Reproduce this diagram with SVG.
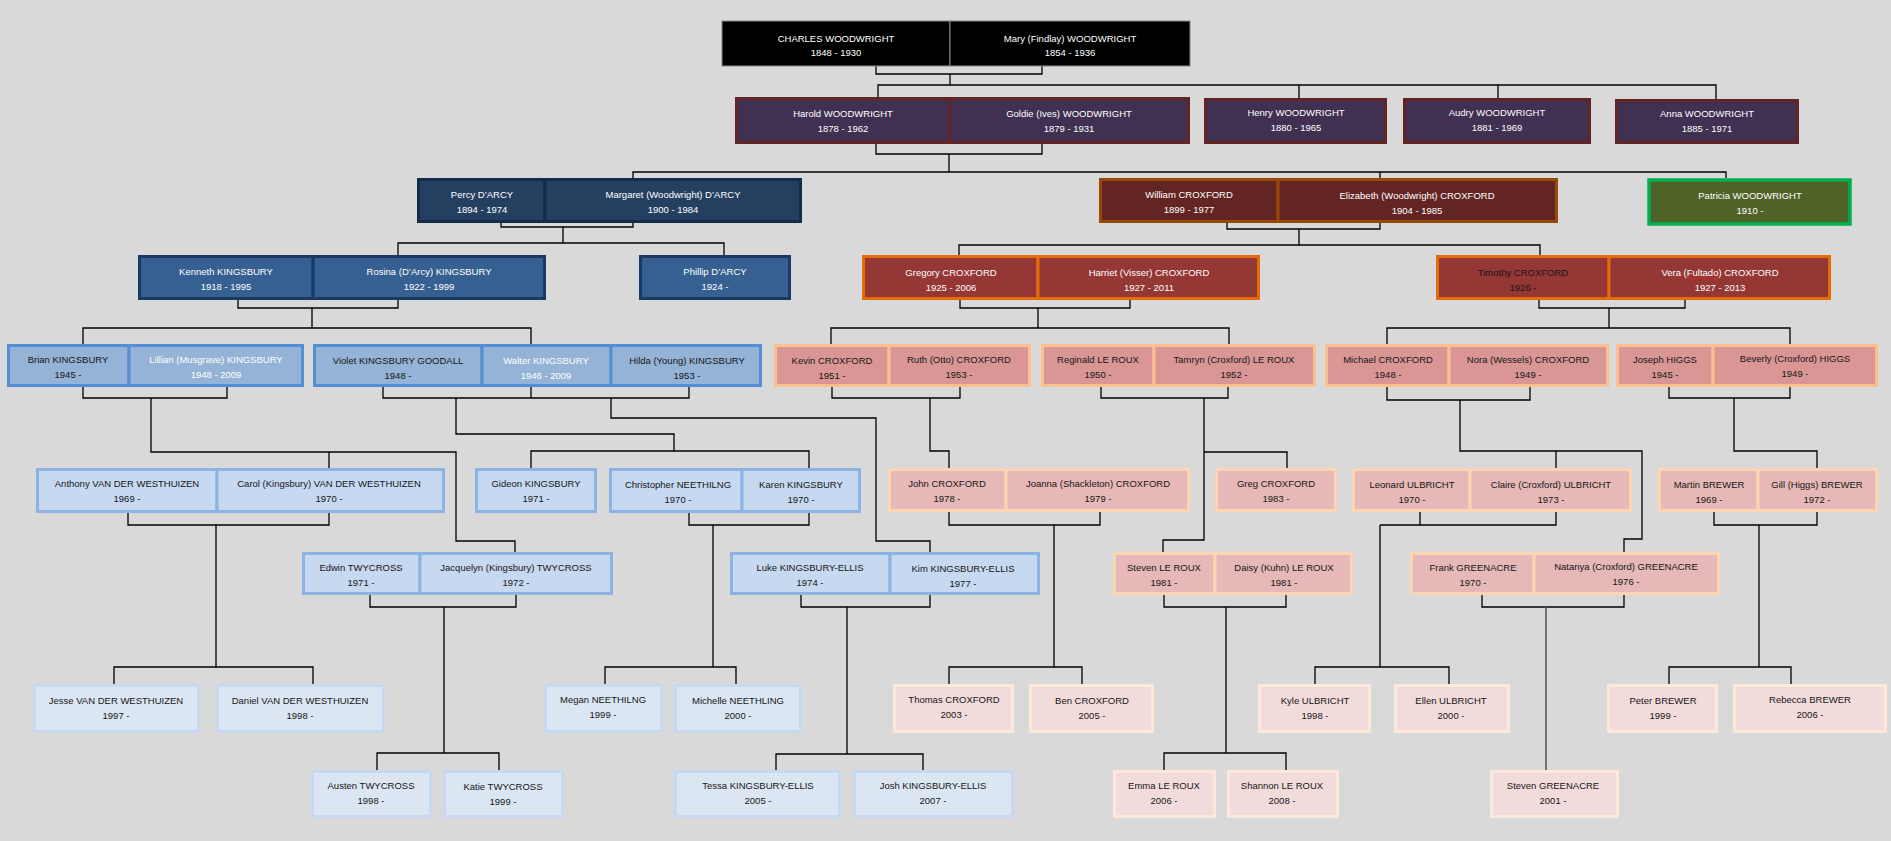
<svg xmlns="http://www.w3.org/2000/svg" width="1891" height="841" viewBox="0 0 1891 841">
<style>
.ln{fill:none;stroke:#000;stroke-width:1.3}
.lg{fill:none;stroke:#595959;stroke-width:1.6}
.t{font-family:'Liberation Sans',Arial,sans-serif;font-size:9.5px;text-anchor:middle}
.w{fill:#fff}.k{fill:#161616}
.b0{fill:#000;stroke:#8a8a8a;stroke-width:1}
.b1{fill:#403152;stroke:#632523;stroke-width:3}
.b2d{fill:#243f60;stroke:#142c4a;stroke-width:3}
.b2c{fill:#632523;stroke:#984807;stroke-width:3}
.b2p{fill:#4f6228;stroke:#00b050;stroke-width:3.5}
.b3d{fill:#366092;stroke:#1b3a63;stroke-width:3}
.b3c{fill:#953735;stroke:#e36c09;stroke-width:3}
.b4d{fill:#95b3d7;stroke:#558ed5;stroke-width:3}
.b4c{fill:#d99694;stroke:#fac090;stroke-width:3}
.b5d{fill:#c6d9f1;stroke:#8db3e2;stroke-width:3}
.b5c{fill:#e6b9b8;stroke:#fcd5b5;stroke-width:3}
.b7d{fill:#dce6f2;stroke:#c6d9f1;stroke-width:3}
.b7c{fill:#f2dcdb;stroke:#fde9d9;stroke-width:3}
</style>
<rect width="1891" height="841" fill="#d9d9d9"/>

<g id="connectors">
<!-- generation 0 -> 1 -->
<path class="ln" d="M876,66 V74 H1042 V66 M950,74 V85 M878,97 V85 H1716 V99 M1299,85 V98 M1498,85 V98"/>
<!-- generation 1 -> 2 -->
<path class="ln" d="M876,144 V154 H1042 V144 M949,154 V172 M633,178 V172 H1726 V178 M1380,172 V178"/>
<!-- generation 2 -> 3 -->
<path class="ln" d="M501,221 V227 H633 V221 M563,227 V243 M398,255 V243 H724 V255"/>
<path class="ln" d="M1227,221 V229 H1380 V221 M1299,229 V245 M959,255 V245 H1540 V255"/>
<!-- generation 3 -> 4 -->
<path class="ln" d="M238,298 V308 H398 V298 M312,308 V328 M83,344 V328 H531 V344"/>
<path class="ln" d="M960,298 V308 H1130 V298 M1038,308 V328 M831,344 V328 H1229 V344"/>
<path class="ln" d="M1539,298 V308 H1685 V298 M1609,308 V328 M1387,344 V328 H1790 V344"/>
<!-- generation 4 -> 5/6 -->
<path class="ln" d="M83,386 V398 H227 V386 M151,398 V452 H456 V541 H515 V552 M329,452 V468"/>
<path class="ln" d="M383,386 V398 H689 V386 M531,386 V398 M456,398 V434 H674 V451 M531,468 V451 H809 V468 M611,398 V418 H876 V541 H930 V552"/>
<path class="ln" d="M832,386 V398 H960 V386 M930,398 V451 H949 V468"/>
<path class="ln" d="M1101,386 V398 H1228 V386 M1204,398 V540 H1163 V552 M1204,452 H1287 V468"/>
<path class="ln" d="M1387,386 V400 H1530 V386 M1460,400 V451 H1642 V539 H1624 V552 M1556,451 V468"/>
<path class="ln" d="M1669,386 V398 H1790 V386 M1734,398 V451 H1817 V468"/>
<!-- generation 5 -> 7 -->
<path class="ln" d="M128,512 V525 H329 V512 M216,525 V667 M114,684 V667 H313 V684"/>
<path class="ln" d="M689,512 V525 H809 V512 M713,525 V667 M605,684 V667 H736 V684"/>
<path class="ln" d="M949,511 V525 H1100 V511 M1054,525 V667 M949,684 V667 H1082 V684"/>
<path class="ln" d="M1420,511 V525 H1556 V511 M1380,525 H1420 M1380,525 V667 M1315,684 V667 H1449 V684"/>
<path class="ln" d="M1714,511 V525 H1817 V511 M1759,525 V667 M1669,684 V667 H1791 V684"/>
<!-- generation 6 -> 8 -->
<path class="ln" d="M370,594 V607 H516 V594 M444,607 V753 M377,770 V753 H499 V770"/>
<path class="ln" d="M801,594 V607 H930 V594 M847,607 V754 M776,770 V754 H923 V770"/>
<path class="ln" d="M1164,594 V607 H1286 V594 M1226,607 V753 M1164,770 V753 H1286 V770"/>
<path class="ln" d="M1482,594 V607 H1624 V594"/>
<path class="lg" d="M1546,607 V770"/>
</g>

<!-- Generation 0 -->
<g id="charles"><rect class="b0" x="722" y="21" width="228" height="45"/><text class="t w" x="836" y="41.5">CHARLES WOODWRIGHT</text><text class="t w" x="836" y="56">1848 - 1930</text></g>
<g id="mary"><rect class="b0" x="950" y="21" width="240" height="45"/><text class="t w" x="1070" y="41.5">Mary (Findlay) WOODWRIGHT</text><text class="t w" x="1070" y="56">1854 - 1936</text></g>

<!-- Generation 1 -->
<g id="harold"><rect class="b1" x="736.5" y="98.5" width="213.5" height="44"/><text class="t w" x="843" y="116.5">Harold WOODWRIGHT</text><text class="t w" x="843" y="131.5">1878 - 1962</text></g>
<g id="goldie"><rect class="b1" x="950" y="98.5" width="238.5" height="44"/><text class="t w" x="1069" y="116.5">Goldie (Ives) WOODWRIGHT</text><text class="t w" x="1069" y="131.5">1879 - 1931</text></g>
<g id="henry"><rect class="b1" x="1205.5" y="99.5" width="180" height="43"/><text class="t w" x="1296" y="116">Henry WOODWRIGHT</text><text class="t w" x="1296" y="131">1880 - 1965</text></g>
<g id="audry"><rect class="b1" x="1404.5" y="99.5" width="185" height="43"/><text class="t w" x="1497" y="116">Audry WOODWRIGHT</text><text class="t w" x="1497" y="131">1881 - 1969</text></g>
<g id="anna"><rect class="b1" x="1616.5" y="100.5" width="181" height="42"/><text class="t w" x="1707" y="117">Anna WOODWRIGHT</text><text class="t w" x="1707" y="132">1885 - 1971</text></g>

<!-- Generation 2 -->
<g id="percy"><rect class="b2d" x="418.5" y="179.5" width="126.5" height="42"/><text class="t w" x="482" y="198">Percy D’ARCY</text><text class="t w" x="482" y="212.5">1894 - 1974</text></g>
<g id="margaret"><rect class="b2d" x="545" y="179.5" width="255.5" height="42"/><text class="t w" x="673" y="198">Margaret (Woodwright) D’ARCY</text><text class="t w" x="673" y="212.5">1900 - 1984</text></g>
<g id="william"><rect class="b2c" x="1100.5" y="179.5" width="177.5" height="42"/><text class="t w" x="1189" y="198">William CROXFORD</text><text class="t w" x="1189" y="212.5">1899 - 1977</text></g>
<g id="elizabeth"><rect class="b2c" x="1278" y="179.5" width="278.5" height="42"/><text class="t w" x="1417" y="199">Elizabeth (Woodwright) CROXFORD</text><text class="t w" x="1417" y="213.5">1904 - 1985</text></g>
<g id="patricia"><rect class="b2p" x="1649" y="180" width="201" height="44"/><text class="t w" x="1750" y="199">Patricia WOODWRIGHT</text><text class="t w" x="1750" y="213.5">1910 -</text></g>

<!-- Generation 3 -->
<g id="kenneth"><rect class="b3d" x="139.5" y="256.5" width="173.5" height="42"/><text class="t w" x="226" y="275">Kenneth KINGSBURY</text><text class="t w" x="226" y="290">1918 - 1995</text></g>
<g id="rosina"><rect class="b3d" x="313" y="256.5" width="231.5" height="42"/><text class="t w" x="429" y="275">Rosina (D’Arcy) KINGSBURY</text><text class="t w" x="429" y="290">1922 - 1999</text></g>
<g id="phillip"><rect class="b3d" x="640.5" y="256.5" width="149" height="42"/><text class="t w" x="715" y="275">Phillip D’ARCY</text><text class="t w" x="715" y="290">1924 -</text></g>
<g id="gregory"><rect class="b3c" x="863.5" y="256.5" width="174.5" height="42"/><text class="t w" x="951" y="275.5">Gregory CROXFORD</text><text class="t w" x="951" y="290.5">1925 - 2006</text></g>
<g id="harriet"><rect class="b3c" x="1038" y="256.5" width="220.5" height="42"/><text class="t w" x="1149" y="275.5">Harriet (Visser) CROXFORD</text><text class="t w" x="1149" y="290.5">1927 - 2011</text></g>
<g id="timothy"><rect class="b3c" x="1437.5" y="256.5" width="171.5" height="42"/><text class="t k" x="1523" y="275.5">Timothy CROXFORD</text><text class="t k" x="1523" y="290.5">1926 -</text></g>
<g id="vera"><rect class="b3c" x="1609" y="256.5" width="220.5" height="42"/><text class="t w" x="1720" y="275.5">Vera (Fultado) CROXFORD</text><text class="t w" x="1720" y="290.5">1927 - 2013</text><path d="M1687,277.8 l2,1.5 l2,-1.5 l2,1.5 l2,-1.5 l2,1.5 l2,-1.5 l2,1.5 l2,-1.5 l2,1.5 l2,-1.5 l2,1.5 l2,-1.5 l2,1.5 l2,-1.5 l2,1.5 l2,-1.5" fill="none" stroke="#e02020" stroke-width="0.9"/></g>

<!-- Generation 4 -->
<g id="brian"><rect class="b4d" x="8.5" y="345.5" width="120.5" height="40"/><text class="t k" x="68" y="363">Brian KINGSBURY</text><text class="t k" x="68" y="378">1945 -</text></g>
<g id="lillian"><rect class="b4d" x="129" y="345.5" width="173.5" height="40"/><text class="t w" x="216" y="363">Lillian (Musgrave) KINGSBURY</text><text class="t w" x="216" y="378">1948 - 2009</text></g>
<g id="violet"><rect class="b4d" x="314.5" y="345.5" width="167.5" height="40"/><text class="t k" x="398" y="364">Violet KINGSBURY GOODALL</text><text class="t k" x="398" y="379">1948 -</text></g>
<g id="walter"><rect class="b4d" x="482" y="345.5" width="129" height="40"/><text class="t w" x="546" y="364">Walter KINGSBURY</text><text class="t w" x="546" y="379">1946 - 2009</text></g>
<g id="hilda"><rect class="b4d" x="611" y="345.5" width="149.5" height="40"/><text class="t k" x="687" y="364">Hilda (Young) KINGSBURY</text><text class="t k" x="687" y="379">1953 -</text></g>
<g id="kevin"><rect class="b4c" x="775.5" y="345.5" width="113.5" height="40"/><text class="t k" x="832" y="364">Kevin CROXFORD</text><text class="t k" x="832" y="379">1951 -</text></g>
<g id="ruth"><rect class="b4c" x="889" y="345.5" width="140.5" height="40"/><text class="t k" x="959" y="363">Ruth (Otto) CROXFORD</text><text class="t k" x="959" y="378">1953 -</text></g>
<g id="reginald"><rect class="b4c" x="1042.5" y="345.5" width="111.5" height="40"/><text class="t k" x="1098" y="363">Reginald LE ROUX</text><text class="t k" x="1098" y="378">1950 -</text></g>
<g id="tamryn"><rect class="b4c" x="1154" y="345.5" width="160.5" height="40"/><text class="t k" x="1234" y="363">Tamryn (Croxford) LE ROUX</text><text class="t k" x="1234" y="378">1952 -</text></g>
<g id="michael"><rect class="b4c" x="1326.5" y="345.5" width="122.5" height="40"/><text class="t k" x="1388" y="363">Michael CROXFORD</text><text class="t k" x="1388" y="378">1948 -</text></g>
<g id="nora"><rect class="b4c" x="1449" y="345.5" width="158.5" height="40"/><text class="t k" x="1528" y="363">Nora (Wessels) CROXFORD</text><text class="t k" x="1528" y="378">1949 -</text></g>
<g id="joseph"><rect class="b4c" x="1617.5" y="345.5" width="95.5" height="40"/><text class="t k" x="1665" y="363">Joseph HIGGS</text><text class="t k" x="1665" y="378">1945 -</text></g>
<g id="beverly"><rect class="b4c" x="1713" y="345.5" width="163.5" height="40"/><text class="t k" x="1795" y="362">Beverly (Croxford) HIGGS</text><text class="t k" x="1795" y="377">1949 -</text></g>

<!-- Generation 5 -->
<g id="anthony"><rect class="b5d" x="37.5" y="469.5" width="179.5" height="42"/><text class="t k" x="127" y="487">Anthony VAN DER WESTHUIZEN</text><text class="t k" x="127" y="502">1969 -</text></g>
<g id="carol"><rect class="b5d" x="217" y="469.5" width="226.5" height="42"/><text class="t k" x="329" y="487">Carol (Kingsbury) VAN DER WESTHUIZEN</text><text class="t k" x="329" y="502">1970 -</text></g>
<g id="gideon"><rect class="b5d" x="476.5" y="469.5" width="119" height="42"/><text class="t k" x="536" y="487">Gideon KINGSBURY</text><text class="t k" x="536" y="502">1971 -</text></g>
<g id="christopher"><rect class="b5d" x="610.5" y="469.5" width="131.5" height="42"/><text class="t k" x="678" y="488">Christopher NEETHILNG</text><text class="t k" x="678" y="503">1970 -</text></g>
<g id="karen"><rect class="b5d" x="742" y="469.5" width="117.5" height="42"/><text class="t k" x="801" y="488">Karen KINGSBURY</text><text class="t k" x="801" y="503">1970 -</text></g>
<g id="john"><rect class="b5c" x="889.5" y="469.5" width="116.5" height="41"/><text class="t k" x="947" y="487">John CROXFORD</text><text class="t k" x="947" y="502">1978 -</text></g>
<g id="joanna"><rect class="b5c" x="1006" y="469.5" width="182.5" height="41"/><text class="t k" x="1098" y="487">Joanna (Shackleton) CROXFORD</text><text class="t k" x="1098" y="502">1979 -</text></g>
<g id="greg"><rect class="b5c" x="1216.5" y="469.5" width="119" height="41"/><text class="t k" x="1276" y="487">Greg CROXFORD</text><text class="t k" x="1276" y="502">1983 -</text></g>
<g id="leonard"><rect class="b5c" x="1353.5" y="469.5" width="116.5" height="41"/><text class="t k" x="1412" y="488">Leonard ULBRICHT</text><text class="t k" x="1412" y="503">1970 -</text></g>
<g id="claire"><rect class="b5c" x="1470" y="469.5" width="160.5" height="41"/><text class="t k" x="1551" y="488">Claire (Croxford) ULBRICHT</text><text class="t k" x="1551" y="503">1973 -</text></g>
<g id="martin"><rect class="b5c" x="1659.5" y="469.5" width="98.5" height="41"/><text class="t k" x="1709" y="488">Martin BREWER</text><text class="t k" x="1709" y="503">1969 -</text></g>
<g id="gill"><rect class="b5c" x="1758" y="469.5" width="118.5" height="41"/><text class="t k" x="1817" y="488">Gill (Higgs) BREWER</text><text class="t k" x="1817" y="503">1972 -</text></g>

<!-- Generation 6 -->
<g id="edwin"><rect class="b5d" x="303.5" y="553.5" width="116.5" height="40"/><text class="t k" x="361" y="571">Edwin TWYCROSS</text><text class="t k" x="361" y="586">1971 -</text></g>
<g id="jacquelyn"><rect class="b5d" x="420" y="553.5" width="191.5" height="40"/><text class="t k" x="516" y="571">Jacquelyn (Kingsbury) TWYCROSS</text><text class="t k" x="516" y="586">1972 -</text></g>
<g id="luke"><rect class="b5d" x="731.5" y="553.5" width="158.5" height="40"/><text class="t k" x="810" y="571">Luke KINGSBURY-ELLIS</text><text class="t k" x="810" y="586">1974 -</text></g>
<g id="kim"><rect class="b5d" x="890" y="553.5" width="148.5" height="40"/><text class="t k" x="963" y="571.5">Kim KINGSBURY-ELLIS</text><text class="t k" x="963" y="586.5">1977 -</text></g>
<g id="steven"><rect class="b5c" x="1114.5" y="553.5" width="100.5" height="40"/><text class="t k" x="1164" y="571">Steven LE ROUX</text><text class="t k" x="1164" y="586">1981 -</text></g>
<g id="daisy"><rect class="b5c" x="1215" y="553.5" width="136.5" height="40"/><text class="t k" x="1284" y="571">Daisy (Kuhn) LE ROUX</text><text class="t k" x="1284" y="586">1981 -</text></g>
<g id="frank"><rect class="b5c" x="1411.5" y="553.5" width="122.5" height="40"/><text class="t k" x="1473" y="571">Frank GREENACRE</text><text class="t k" x="1473" y="586">1970 -</text></g>
<g id="natanya"><rect class="b5c" x="1534" y="553.5" width="184.5" height="40"/><text class="t k" x="1626" y="570">Natanya (Croxford) GREENACRE</text><text class="t k" x="1626" y="585">1976 -</text></g>

<!-- Generation 7 -->
<g id="jesse"><rect class="b7d" x="34.5" y="685.5" width="164" height="46"/><text class="t k" x="116" y="704">Jesse VAN DER WESTHUIZEN</text><text class="t k" x="116" y="719">1997 -</text></g>
<g id="daniel"><rect class="b7d" x="217.5" y="685.5" width="166" height="46"/><text class="t k" x="300" y="704">Daniel VAN DER WESTHUIZEN</text><text class="t k" x="300" y="719">1998 -</text></g>
<g id="megan"><rect class="b7d" x="545.5" y="685.5" width="116" height="46"/><text class="t k" x="603" y="703">Megan NEETHILNG</text><text class="t k" x="603" y="718">1999 -</text></g>
<g id="michelle"><rect class="b7d" x="675.5" y="685.5" width="125" height="46"/><text class="t k" x="738" y="704">Michelle NEETHLING</text><text class="t k" x="738" y="719">2000 -</text></g>
<g id="thomas"><rect class="b7c" x="894.5" y="685.5" width="118" height="46"/><text class="t k" x="954" y="703">Thomas CROXFORD</text><text class="t k" x="954" y="718">2003 -</text></g>
<g id="ben"><rect class="b7c" x="1030.5" y="685.5" width="122" height="46"/><text class="t k" x="1092" y="704">Ben CROXFORD</text><text class="t k" x="1092" y="719">2005 -</text></g>
<g id="kyle"><rect class="b7c" x="1259.5" y="685.5" width="110" height="46"/><text class="t k" x="1315" y="704">Kyle ULBRICHT</text><text class="t k" x="1315" y="719">1998 -</text></g>
<g id="ellen"><rect class="b7c" x="1395.5" y="685.5" width="113" height="46"/><text class="t k" x="1451" y="704">Ellen ULBRICHT</text><text class="t k" x="1451" y="719">2000 -</text></g>
<g id="peter"><rect class="b7c" x="1608.5" y="685.5" width="108" height="46"/><text class="t k" x="1663" y="704">Peter BREWER</text><text class="t k" x="1663" y="719">1999 -</text></g>
<g id="rebecca"><rect class="b7c" x="1734.5" y="685.5" width="151" height="46"/><text class="t k" x="1810" y="703">Rebecca BREWER</text><text class="t k" x="1810" y="718">2006 -</text></g>

<!-- Generation 8 -->
<g id="austen"><rect class="b7d" x="312.5" y="771.5" width="118" height="45"/><text class="t k" x="371" y="789">Austen TWYCROSS</text><text class="t k" x="371" y="804">1998 -</text></g>
<g id="katie"><rect class="b7d" x="444.5" y="771.5" width="118" height="45"/><text class="t k" x="503" y="790">Katie TWYCROSS</text><text class="t k" x="503" y="805">1999 -</text></g>
<g id="tessa"><rect class="b7d" x="675.5" y="771.5" width="164" height="45"/><text class="t k" x="758" y="789">Tessa KINGSBURY-ELLIS</text><text class="t k" x="758" y="804">2005 -</text></g>
<g id="josh"><rect class="b7d" x="854.5" y="771.5" width="158" height="45"/><text class="t k" x="933" y="789">Josh KINGSBURY-ELLIS</text><text class="t k" x="933" y="804">2007 -</text></g>
<g id="emma"><rect class="b7c" x="1114.5" y="771.5" width="100" height="45"/><text class="t k" x="1164" y="789">Emma LE ROUX</text><text class="t k" x="1164" y="804">2006 -</text></g>
<g id="shannon"><rect class="b7c" x="1228.5" y="771.5" width="109" height="45"/><text class="t k" x="1282" y="789">Shannon LE ROUX</text><text class="t k" x="1282" y="804">2008 -</text></g>
<g id="steven-greenacre"><rect class="b7c" x="1491.5" y="771.5" width="126" height="45"/><text class="t k" x="1553" y="789">Steven GREENACRE</text><text class="t k" x="1553" y="804">2001 -</text></g>
</svg>
